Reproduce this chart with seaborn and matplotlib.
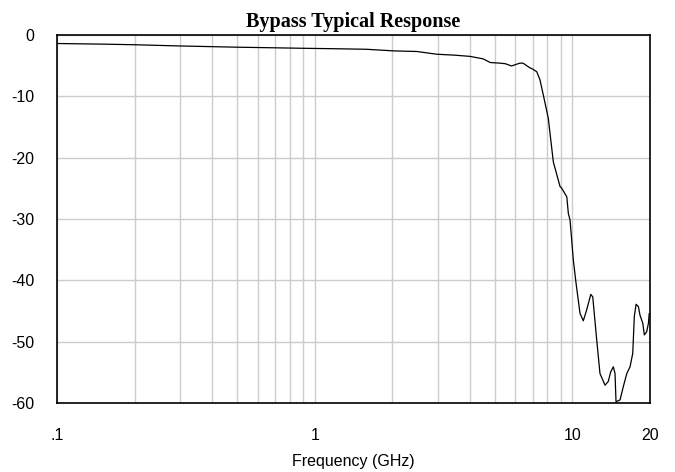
import numpy as np
import pandas as pd
import matplotlib
matplotlib.use("Agg")
import matplotlib.pyplot as plt
import seaborn as sns
from matplotlib.ticker import FixedLocator, NullFormatter

# --- data (frequency in GHz, response in dB) ---
freq_ghz = [0.10, 0.15, 0.20, 0.30, 0.50, 0.70, 0.88, 1.20, 1.59, 2.02, 2.49,
            2.98, 3.50, 4.01, 4.50, 4.80, 5.24, 5.50, 5.80, 6.25, 6.43, 6.80,
            7.03, 7.27, 7.48, 7.71, 8.06, 8.43, 8.95, 9.09, 9.51, 9.64, 9.79,
            10.08, 10.33, 10.70, 11.02, 11.36, 11.78, 11.99, 12.42, 12.79,
            13.38, 13.77, 14.08, 14.41, 14.63, 14.76, 15.30, 15.76, 16.25,
            16.73, 17.14, 17.38, 17.66, 18.03, 18.29, 18.75, 19.01, 19.41,
            19.72, 19.85]
response_db = [-1.4, -1.5, -1.6, -1.8, -2.0, -2.1, -2.17, -2.25, -2.34, -2.6,
               -2.7, -3.15, -3.3, -3.5, -3.9, -4.5, -4.6, -4.7, -5.06, -4.6,
               -4.6, -5.3, -5.6, -6.0, -7.3, -9.8, -13.6, -20.7, -24.7, -25.0,
               -26.4, -29.1, -30.2, -36.7, -40.5, -45.4, -46.6, -44.8, -42.3,
               -42.7, -49.7, -55.2, -57.1, -56.5, -54.9, -54.1, -55.2, -59.8,
               -59.5, -57.3, -55.2, -54.1, -51.9, -45.9, -43.9, -44.3, -45.7,
               -47.0, -48.9, -48.4, -47.0, -45.4]

df = pd.DataFrame({"Frequency": freq_ghz, "Response": response_db})

sns.set_style("white")
plt.rcParams['font.family'] = ['Liberation Sans', 'DejaVu Sans']
plt.rcParams['text.color'] = 'black'
plt.rcParams['axes.labelcolor'] = 'black'
plt.rcParams['xtick.color'] = 'black'
plt.rcParams['ytick.color'] = 'black'

fig = plt.figure(figsize=(6.75, 4.72), dpi=100)
ax = fig.add_axes([0.0844, 0.1462, 0.8786, 0.7798])

sns.lineplot(data=df, x="Frequency", y="Response", ax=ax, color="black", linewidth=0.9)

ax.set_xscale("log")
ax.set_xlim(0.1, 20)
ax.set_ylim(-60, 0)

# grid on every log decade step
minor = [m * 10.0 ** e for e in (-1, 0, 1) for m in range(2, 10)]
minor = [v for v in minor if v <= 20]
ax.xaxis.set_major_locator(FixedLocator([0.1, 1, 10, 20]))
ax.xaxis.set_minor_locator(FixedLocator(minor))
ax.xaxis.set_minor_formatter(NullFormatter())
ax.set_xticklabels([".1", "1", "10", "20"])
ax.set_yticks([0, -10, -20, -30, -40, -50, -60])
ax.set_yticklabels(["0", "-10", "-20", "-30", "-40", "-50", "-60"])

ax.grid(True, which="both", axis="x", color="#cccccc", linewidth=1.0)
ax.grid(True, which="major", axis="y", color="#cccccc", linewidth=1.0)
ax.set_axisbelow(True)

ax.tick_params(axis="both", which="both", length=0, labelsize=11.5)
ax.tick_params(axis="x", pad=18)
ax.tick_params(axis="y", pad=16)

for s in ax.spines.values():
    s.set_color("black")
    s.set_linewidth(1.2)

ax.set_xlabel("Frequency (GHz)", fontsize=11.5, labelpad=8)
ax.set_ylabel("")
ax.set_title("Bypass Typical Response", fontsize=14.5, fontweight="bold",
             family=["Liberation Serif", "DejaVu Serif"], pad=6)

plt.savefig("out.png", dpi=100)
